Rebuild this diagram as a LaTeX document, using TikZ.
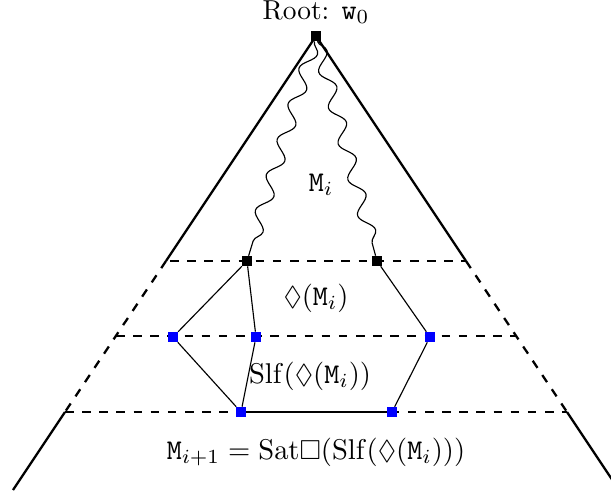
\documentclass[tikz,border=0pt]{standalone}
\usepackage{amsmath,amssymb}
\usepackage{tikz}
\usetikzlibrary{decorations.pathmorphing}

\tikzset{
  blk/.style={fill=black,inner sep=0pt,minimum size=3.3pt},
  blu/.style={fill=blue,inner sep=0pt,minimum size=3.3pt},
  wave/.style={decorate,decoration={snake,amplitude=2.4pt,segment length=13pt}},
  lvl/.style={thick,dashed}
}

\begin{document}
\begin{tikzpicture}[x=0.35pt,y=-0.35pt,every node/.style={font=\fontsize{9.6}{11}\selectfont}]
  \useasboundingbox (0,0) rectangle (611,491); % 画像の範囲
  \draw[thick] (316,36) -- (166,261); % 左辺（上）
  \draw[thick,dashed] (166,261) -- (65,412); % 左辺（中）
  \draw[thick] (65,412) -- (13,490); % 左辺（下）
  \draw[thick] (316,36) -- (466,261); % 右辺（上）
  \draw[thick,dashed] (466,261) -- (567,412); % 右辺（中）
  \draw[thick] (567,412) -- (619,490); % 右辺（下）
  \draw[lvl] (170,261) -- (466,261); % 1段目の境界
  \draw[lvl] (116,336) -- (516,336); % 2段目の境界
  \draw[lvl] (65,412) -- (567,412); % 3段目の境界
  \node[blk] (w0) at (316,36) {}; % 根
  \node[blk] (a) at (247,261) {}; % 左の黒点
  \node[blk] (b) at (377,261) {}; % 右の黒点
  \node[blu] (c) at (173,337) {}; % 左の青点
  \node[blu] (d) at (256,337) {}; % 中央の青点
  \node[blu] (e) at (430,337) {}; % 右の青点
  \node[blu] (f) at (241,412) {}; % 下左の青点
  \node[blu] (g) at (392,412) {}; % 下右の青点
  \draw[wave] (w0) -- (a); % 根から左への波線
  \draw[wave] (w0) -- (b); % 根から右への波線
  \draw (a) -- (c) -- (f) -- (d) -- (a); % 左の四角形
  \draw (b) -- (e) -- (g); % 右の折れ線
  \draw[thick] (f) -- (g); % 下の辺
  \node (root) at (316,12) {Root: $\mathtt{w}_0$}; % 根のラベル
  \node (mi) at (321,185) {$\mathtt{M}_i$}; % M_i
  \node (dia) at (316,298) {$\Diamond(\mathtt{M}_i)$}; % 菱形
  \node (slf) at (310,376) {$\mathrm{Slf}(\Diamond(\mathtt{M}_i))$}; % Slf
  \node (nxt) at (316,452) {$\mathtt{M}_{i+1}=\mathrm{Sat}\Box(\mathrm{Slf}(\Diamond(\mathtt{M}_i)))$}; % 次の M
\end{tikzpicture}
\end{document}
